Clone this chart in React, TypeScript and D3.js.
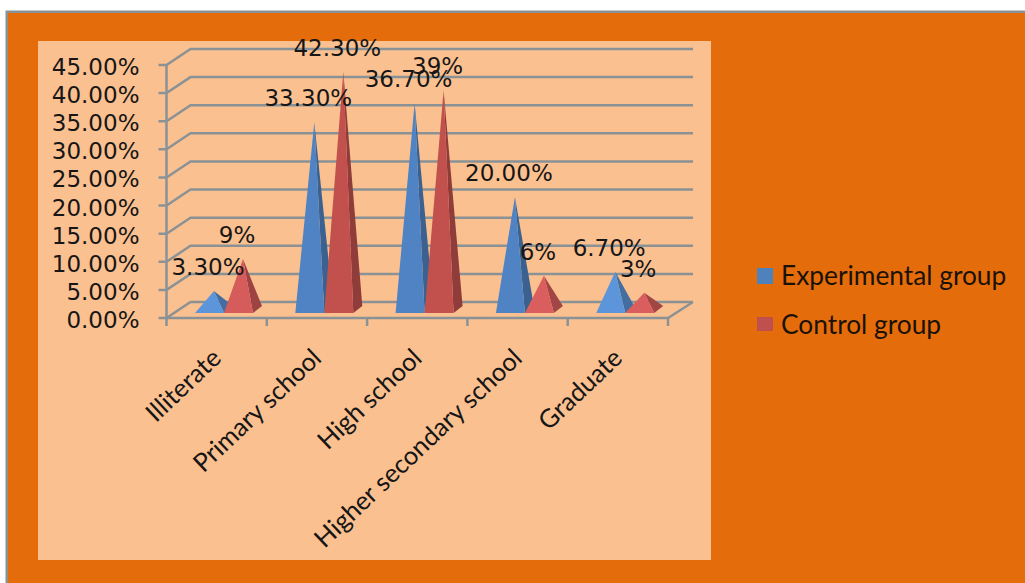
import React from "react";
import * as d3 from "d3";

// Education level of the study participants, in percent of each group.
const categories = ["Illiterate", "Primary school", "High school", "Higher secondary school", "Graduate"];
const experimentalValues = [3.3, 33.3, 36.7, 20.0, 6.7];
const controlValues = [9, 42.3, 39, 6, 3];
const experimentalLabels = ["3.30%", "33.30%", "36.70%", "20.00%", "6.70%"];
const controlLabels = ["9%", "42.30%", "39%", "6%", "3%"];
const yTicks = [0, 5, 10, 15, 20, 25, 30, 35, 40, 45];

const GRID = "#8b9296";
const TEXT = "#161616";
const AXIS_FONT = "'DejaVu Sans', sans-serif";
const CAT_FONT = "Lato, sans-serif";
const NUM_SIZE = 23;

// Oblique projection of the chart box: depth moves right and up.
const depthX = 24;
const depthY = 16;
const plotLeft = 166.5;
const plotRight = 668;
const floorY = 318;

const y = d3.scaleLinear().domain([0, 45]).range([floorY, 65]);
const x = d3.scaleBand<string>().domain(categories).range([plotLeft, plotRight]);

// Pyramids stand inside the box, on a base 29 wide and partly set back.
const pyramidWidth = 29;
const pyramidDepthX = 9;
const pyramidDepthY = 7;
const baseY = 313;
const unitHeight = floorY - y(1);

const blueShade = d3.scaleLinear<string>().domain([7, 20]).range(["#5c95da", "#4f83c3"]).clamp(true);
const redShade = d3.scaleLinear<string>().domain([6, 20]).range(["#db5e5e", "#c2514e"]).clamp(true);

function apexOf(left: number, value: number) {
  return {
    x: left + pyramidWidth / 2 + pyramidDepthX / 2,
    y: baseY - pyramidDepthY / 2 - value * unitHeight,
  };
}

const line = d3.line<[number, number]>();

function Pyramid({ left, value, fill }: { left: number; value: number; fill: string }) {
  const apex = apexOf(left, value);
  const right = left + pyramidWidth;
  const top: [number, number] = [apex.x, apex.y];
  const side = d3.color(fill)!.darker(0.85).toString();
  return (
    <g>
      <path
        d={line([[right, baseY], [right + pyramidDepthX, baseY - pyramidDepthY], top])! + "Z"}
        fill={side}
      />
      <path d={line([[left, baseY], [right, baseY], top])! + "Z"} fill={fill} />
    </g>
  );
}

function App() {
  const groupLeft = (c: string) => x(c)! + 28.5;
  return (
    <svg
      width={1025}
      height={583}
      style={{ position: "absolute", left: 0, top: 0, background: "#fff" }}
    >
      <rect x={5.5} y={10.5} width={1020} height={573} fill={GRID} />
      <rect x={8} y={13} width={1017} height={570} fill="#e46c0a" />
      <rect x={38} y={41} width={673} height={519} fill="#fbc08f" />

      {/* Side wall and back wall gridlines */}
      <g fill="none" stroke={GRID} strokeWidth={2.5}>
        {yTicks.map((t) => (
          <path
            key={t}
            d={line([
              [plotLeft - 8, y(t)],
              [plotLeft, y(t)],
              [plotLeft + depthX, y(t) - depthY],
              [plotRight + depthX + 1, y(t) - depthY],
            ])!}
          />
        ))}
        <path d={line([[plotLeft, y(45)], [plotLeft, floorY]])!} />
        <path
          d={line([
            [plotLeft, floorY],
            [plotRight, floorY],
            [plotRight + depthX + 1, floorY - depthY],
          ])!}
        />
        {[...categories.map((c) => x(c)!), plotRight].map((tx) => (
          <path key={tx} d={line([[tx, floorY], [tx, floorY + 8]])!} />
        ))}
      </g>

      {yTicks.map((t) => (
        <text
          key={t}
          x={139.5}
          y={y(t) + 10}
          textAnchor="end"
          fontFamily={AXIS_FONT}
          fontSize={NUM_SIZE}
          fill={TEXT}
        >
          {d3.format(".2f")(t)}%
        </text>
      ))}

      {categories.map((c, i) => (
        <g key={c}>
          <Pyramid left={groupLeft(c)} value={experimentalValues[i]} fill={blueShade(experimentalValues[i])} />
          <Pyramid
            left={groupLeft(c) + pyramidWidth}
            value={controlValues[i]}
            fill={redShade(controlValues[i])}
          />
        </g>
      ))}

      {/* Value labels sit just above and left of each apex */}
      {categories.map((c, i) => {
        const a = apexOf(groupLeft(c), experimentalValues[i]);
        const b = apexOf(groupLeft(c) + pyramidWidth, controlValues[i]);
        return (
          <g key={c} fontFamily={AXIS_FONT} fontSize={NUM_SIZE} fill={TEXT} textAnchor="middle">
            <text x={a.x - 6} y={a.y - 16}>{experimentalLabels[i]}</text>
            <text x={b.x - 6} y={b.y - 16}>{controlLabels[i]}</text>
          </g>
        );
      })}

      {categories.map((c) => {
        const cx = x(c)! + x.bandwidth() / 2 + 6;
        return (
          <text
            key={c}
            transform={`translate(${cx},360) rotate(-43.5)`}
            textAnchor="end"
            fontFamily={CAT_FONT}
            fontSize={25.5}
            fill={TEXT}
          >
            {c}
          </text>
        );
      })}

      {/* Legend */}
      <rect x={757} y={268} width={16} height={16} fill="#4f81bd" />
      <text x={781} y={284.5} fontFamily={CAT_FONT} fontSize={26.3} fill="#1a1208">Experimental group</text>
      <rect x={757} y={317} width={16} height={14} fill="#c0504d" />
      <text x={781} y={333.5} fontFamily={CAT_FONT} fontSize={26.3} fill="#1a1208">Control group</text>
    </svg>
  );
}

export default App;
